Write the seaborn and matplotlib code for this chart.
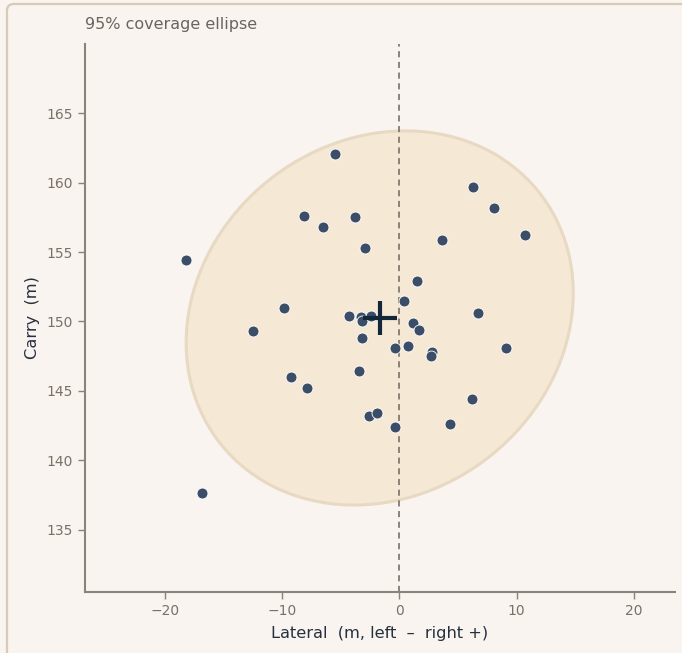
import numpy as np
import pandas as pd
import matplotlib.pyplot as plt
import seaborn as sns
from matplotlib.patches import Ellipse, FancyBboxPatch

# ==========================
# Shot data
# ==========================

lateral = [-5.5, -18.2, -16.8, -8.1, -6.5, -3.8, -2.9, 6.3, 8.1, 10.7,
           3.6, 1.5, 0.4, -9.8, -12.5, -4.3, -3.3, -3.2, -2.4, 1.2,
           1.7, 6.7, -3.2, -0.4, 0.7, 2.8, 2.7, 9.1, -9.2, -7.9,
           -3.4, 6.2, -2.6, -1.9, -0.4, 4.3]
carry = [162.1, 154.4, 137.6, 157.6, 156.8, 157.5, 155.3, 159.7, 158.2, 156.2,
         155.9, 152.9, 151.5, 151.0, 149.3, 150.4, 150.3, 150.0, 150.4, 149.9,
         149.4, 150.6, 148.8, 148.1, 148.2, 147.8, 147.5, 148.1, 146.0, 145.2,
         146.4, 144.4, 143.2, 143.4, 142.4, 142.6]

x_ticks = [-20, -10, 0, 10, 20]
y_ticks = [135, 140, 145, 150, 155, 160, 165]

df = pd.DataFrame({"lateral": lateral, "carry": carry})

# ==========================
# Style
# ==========================

bg = "#f9f4ef"
sns.set_style("ticks")
plt.rcParams["font.family"] = ["DejaVu Sans"]

fig = plt.figure(figsize=(6.82, 6.53), dpi=100, facecolor=bg)
ax = fig.add_axes([85 / 682, 1 - 592 / 653, 590 / 682, 548 / 653])
ax.set_facecolor(bg)

# card border
card = FancyBboxPatch((7 / 682, -0.05), 1.2, 1 - 4 / 653 + 0.05,
                      boxstyle="round,pad=0,rounding_size=0.01",
                      transform=fig.transFigure, facecolor="none",
                      edgecolor="#d6cab8", linewidth=1.6, zorder=-1)
fig.patches.append(card)

# ==========================
# 95% coverage ellipse
# ==========================

mean = df[["lateral", "carry"]].mean().values
cov = np.cov(df["lateral"], df["carry"])
vals, vecs = np.linalg.eigh(cov)
order = vals.argsort()[::-1]
vals, vecs = vals[order], vecs[:, order]
angle = np.degrees(np.arctan2(vecs[1, 0], vecs[0, 0]))
k = 5.991  # chi2(2) 95%
w, h = 2 * np.sqrt(k * vals)

ell = Ellipse(mean, w, h, angle=angle, facecolor="#f5e9d6",
              edgecolor="#e8d9c3", linewidth=2.2, zorder=1)
ax.add_patch(ell)

ax.axvline(0, color="#6e655c", linestyle=(0, (4, 3)), linewidth=1.1, zorder=2)

sns.scatterplot(data=df, x="lateral", y="carry", ax=ax, color="#3c4d68",
                s=62, edgecolor="white", linewidth=0.6, zorder=3)

ax.plot(mean[0], mean[1], marker="+", color="#13263a", markersize=24,
        markeredgewidth=3, zorder=4)

# ==========================
# Axes
# ==========================

ax.set_xlim(-26.8, 23.5)
ax.set_ylim(130.5, 170)
ax.set_xticks(x_ticks)
ax.set_yticks(y_ticks)
ax.set_xticklabels([f"{t}".replace("-", "\u2212") for t in x_ticks])

sns.despine(ax=ax)
for s in ["left", "bottom"]:
    ax.spines[s].set_color("#8a8379")
    ax.spines[s].set_linewidth(1.5)
ax.tick_params(colors="#8a8379", labelcolor="#7a7068", labelsize=10, length=5, width=1)

ax.set_xlabel("Lateral  (m, left  \u2013  right +)", fontsize=11.7, color="#26303f", labelpad=6)
ax.set_ylabel("Carry  (m)", fontsize=11.7, color="#26303f", labelpad=5)

fig.text(85 / 682, 1 - 24 / 653, "95% coverage ellipse", fontsize=11.5,
         color="#6b645e", ha="left", va="center")

plt.savefig("out.png", dpi=100, facecolor=bg)
